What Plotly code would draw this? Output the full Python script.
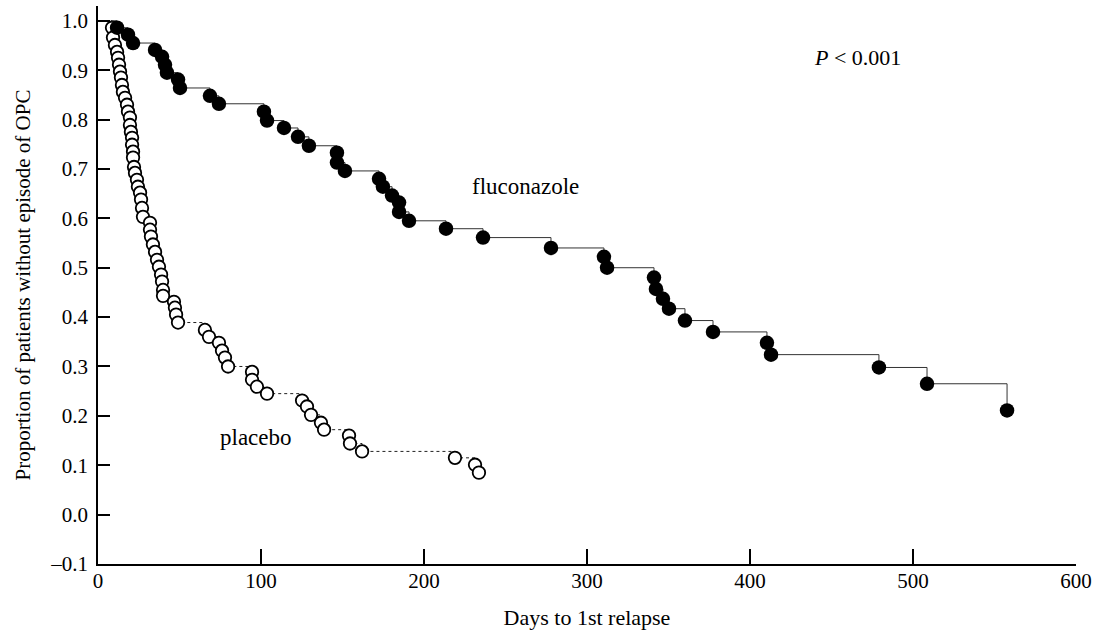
import plotly.graph_objects as go

# ---- data ----
START_DAY = 8
START_SURV = 1.0

fluc_days = [11.7, 18.4, 21.5, 35.0, 39.3, 41.1, 42.3, 49.1, 50.3, 68.7, 74.2, 101.8, 103.7,
             114.1, 122.7, 129.4, 146.6, 146.6, 151.5, 172.4, 174.8, 180.4, 184.7, 184.7,
             190.8, 213.5, 236.2, 277.9, 310.4, 312.3, 341.1, 342.3, 346.6, 350.3, 360.1,
             377.3, 410.4, 412.9, 479.1, 508.6, 557.7]
fluc_surv = [0.986, 0.972, 0.955, 0.941, 0.927, 0.911, 0.895, 0.881, 0.864, 0.848, 0.832,
             0.816, 0.798, 0.783, 0.765, 0.747, 0.733, 0.713, 0.696, 0.680, 0.664, 0.646,
             0.632, 0.613, 0.595, 0.579, 0.561, 0.540, 0.522, 0.500, 0.480, 0.457, 0.437,
             0.417, 0.393, 0.370, 0.348, 0.324, 0.298, 0.265, 0.211]

plac_days = [8.6, 9.2, 10.4, 11.7, 12.3, 12.9, 13.5, 14.1, 14.7, 15.3, 16.6, 17.8, 18.4,
             19.6, 19.6, 20.2, 20.9, 20.9, 21.5, 21.5, 22.1, 22.7, 23.9, 24.5, 25.8, 26.4,
             27.0, 27.6, 31.9, 31.9, 32.5, 33.7, 35.0, 36.2, 37.4, 38.7, 39.3, 39.9, 39.9,
             46.6, 47.2, 47.9, 49.1, 65.6, 68.1, 74.2, 76.1, 77.9, 79.8, 94.5, 94.5, 97.5,
             103.7, 125.2, 128.2, 130.7, 136.8, 138.7, 154.0, 154.6, 162.0, 219.0, 231.3,
             233.7]
plac_surv = [0.986, 0.966, 0.951, 0.937, 0.925, 0.911, 0.897, 0.885, 0.870, 0.856, 0.844,
             0.830, 0.816, 0.804, 0.789, 0.775, 0.763, 0.749, 0.735, 0.723, 0.704, 0.692,
             0.678, 0.664, 0.652, 0.638, 0.621, 0.603, 0.591, 0.577, 0.563, 0.547, 0.532,
             0.516, 0.502, 0.486, 0.472, 0.455, 0.443, 0.431, 0.419, 0.405, 0.389, 0.374,
             0.360, 0.348, 0.332, 0.318, 0.300, 0.289, 0.273, 0.259, 0.245, 0.231, 0.219,
             0.202, 0.186, 0.172, 0.160, 0.144, 0.128, 0.115, 0.101, 0.085]

x_ticks = [0, 100, 200, 300, 400, 500, 600]
y_ticks = [-0.1, 0.0, 0.1, 0.2, 0.3, 0.4, 0.5, 0.6, 0.7, 0.8, 0.9, 1.0]
y_ticktext = ["\u20130.1", "0.0", "0.1", "0.2", "0.3", "0.4", "0.5", "0.6", "0.7", "0.8", "0.9", "1.0"]

FONT = "Liberation Serif, Times New Roman, serif"

fig = go.Figure()

# placebo step line (dotted) and open circles
fig.add_trace(go.Scatter(x=[START_DAY] + plac_days, y=[START_SURV] + plac_surv,
                         mode="lines", line=dict(shape="hv", color="#222", width=1, dash="dot"),
                         hoverinfo="skip", showlegend=False))
fig.add_trace(go.Scatter(x=plac_days, y=plac_surv, mode="markers", name="placebo",
                         marker=dict(symbol="circle", size=12.5, color="white",
                                     line=dict(color="black", width=1.8)),
                         showlegend=False))

# fluconazole step line (solid) and filled circles
fig.add_trace(go.Scatter(x=[START_DAY] + fluc_days, y=[START_SURV] + fluc_surv,
                         mode="lines", line=dict(shape="hv", color="#333", width=1),
                         hoverinfo="skip", showlegend=False))
fig.add_trace(go.Scatter(x=fluc_days, y=fluc_surv, mode="markers", name="fluconazole",
                         marker=dict(symbol="circle", size=14.5, color="black",
                                     line=dict(color="black", width=0)),
                         showlegend=False))

fig.add_annotation(x=262, y=0.664, text="fluconazole", showarrow=False,
                   font=dict(family=FONT, size=23, color="black"))
fig.add_annotation(x=97, y=0.156, text="placebo", showarrow=False,
                   font=dict(family=FONT, size=23, color="black"))
fig.add_annotation(x=466, y=0.925, text="<i>P</i> < 0.001", showarrow=False,
                   font=dict(family=FONT, size=22, color="black"))

fig.update_layout(
    width=1094, height=632,
    margin=dict(l=98, r=18, t=6, b=68),
    paper_bgcolor="white", plot_bgcolor="white",
    font=dict(family=FONT, size=21, color="black"),
    showlegend=False,
)
fig.update_xaxes(range=[0, 600], tickvals=x_ticks, ticks="inside", ticklen=15, tickwidth=1.5,
                 tickcolor="black", showline=True, linecolor="black", linewidth=1.5,
                 showgrid=False, zeroline=False, automargin=False, ticklabelstandoff=-3,
                 title=dict(text="Days to 1st relapse", font=dict(family=FONT, size=22), standoff=18),
                 tickfont=dict(family=FONT, size=21))
fig.update_yaxes(range=[-0.1, 1.03], tickvals=y_ticks, ticktext=y_ticktext, ticks="inside",
                 ticklen=12, tickwidth=1.5, tickcolor="black", showline=True, linecolor="black",
                 linewidth=1.5, showgrid=False, zeroline=False, automargin=False,
                 ticklabelstandoff=4,
                 title=dict(text="Proportion of patients without episode of OPC",
                            font=dict(family=FONT, size=21), standoff=14),
                 tickfont=dict(family=FONT, size=21))

fig.write_html("out.html", config={"displayModeBar": False},
               post_script="document.body.style.margin='0';document.body.style.overflow='hidden';")
